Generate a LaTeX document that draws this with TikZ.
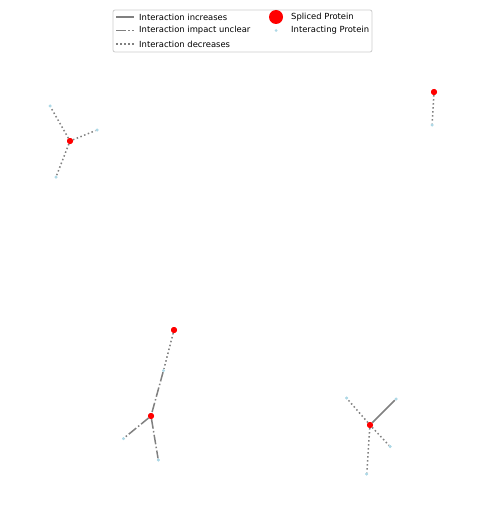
\documentclass[tikz,border=0pt]{standalone}
\usepackage{fontspec}
\setmainfont{DejaVu Sans}
\begin{document}
\begin{tikzpicture}[x=1pt,y=-1pt,
  spliced/.style={circle,fill=red,inner sep=0pt,minimum size=6pt},
  partner/.style={circle,fill=lightblue,inner sep=0pt,minimum size=3pt},
  edgebase/.style={draw=edgegray,line width=1.5pt},
  incr/.style={edgebase},
  unclear/.style={edgebase,dash pattern=on 9.6pt off 2.4pt on 1.5pt off 2.4pt},
  decr/.style={edgebase,dash pattern=on 1.5pt off 2.5pt},
  legtext/.style={anchor=west,font=\fontsize{8.4}{10}\selectfont,inner sep=0pt}
]
\definecolor{lightblue}{HTML}{ADD8E6}
\definecolor{edgegray}{HTML}{808080}
\definecolor{framegray}{HTML}{CCCCCC}
\useasboundingbox[fill=white] (0,0) rectangle (484,524);

% legend
\draw[framegray,fill=white,rounded corners=2pt,line width=0.8pt] (113,10) rectangle (372,52);
\coordinate (l1a) at (116,17); \coordinate (l1b) at (134,17);
\coordinate (l2a) at (116,30.5); \coordinate (l2b) at (134,30.5);
\coordinate (l3a) at (116,44); \coordinate (l3b) at (134,44);
\draw[incr] (l1a) -- (l1b);
\draw[unclear] (l2a) -- (l2b);
\draw[decr] (l3a) -- (l3b);
\node[legtext] (t1) at (139,17) {Interaction increases};
\node[legtext] (t2) at (139,30.5) {Interaction impact unclear};
\node[legtext] (t3) at (139,44) {Interaction decreases};
\node[circle,fill=red,inner sep=0pt,minimum size=14pt] (lsp) at (276,17) {};
\node[partner] (lip) at (276,30.5) {};
\node[legtext] (t4) at (291,17) {Spliced Protein};
\node[legtext] (t5) at (291,30.5) {Interacting Protein};

% cluster 1
\node[spliced] (a) at (70,141) {};
\node[partner] (a1) at (50,106) {};
\node[partner] (a2) at (97,130) {};
\node[partner] (a3) at (56,177) {};
\draw[decr] (a) -- (a1);
\draw[decr] (a) -- (a2);
\draw[decr] (a) -- (a3);

% cluster 2
\node[spliced] (b) at (434,92) {};
\node[partner] (b1) at (432,125) {};
\draw[decr] (b) -- (b1);

% cluster 3
\node[spliced] (c) at (174,330) {};
\node[partner] (c1) at (163.5,370.5) {};
\node[spliced] (d) at (151,416) {};
\node[partner] (d1) at (123.5,438.5) {};
\node[partner] (d2) at (158.3,460) {};
\draw[decr] (c) -- (c1);
\draw[unclear] (c1) -- (d);
\draw[unclear] (d) -- (d1);
\draw[unclear] (d) -- (d2);

% cluster 4
\node[spliced] (e) at (370,425) {};
\node[partner] (e1) at (346.5,398) {};
\node[partner] (e2) at (396,399) {};
\node[partner] (e3) at (390,446.5) {};
\node[partner] (e4) at (366.7,474) {};
\draw[decr] (e) -- (e1);
\draw[incr] (e) -- (e2);
\draw[decr] (e) -- (e3);
\draw[decr] (e) -- (e4);

% redraw nodes on top
\foreach \n in {a,b,c,d,e} \node[spliced] at (\n) {};
\foreach \n in {a1,a2,a3,b1,c1,d1,d2,e1,e2,e3,e4} \node[partner] at (\n) {};
\end{tikzpicture}
\end{document}
